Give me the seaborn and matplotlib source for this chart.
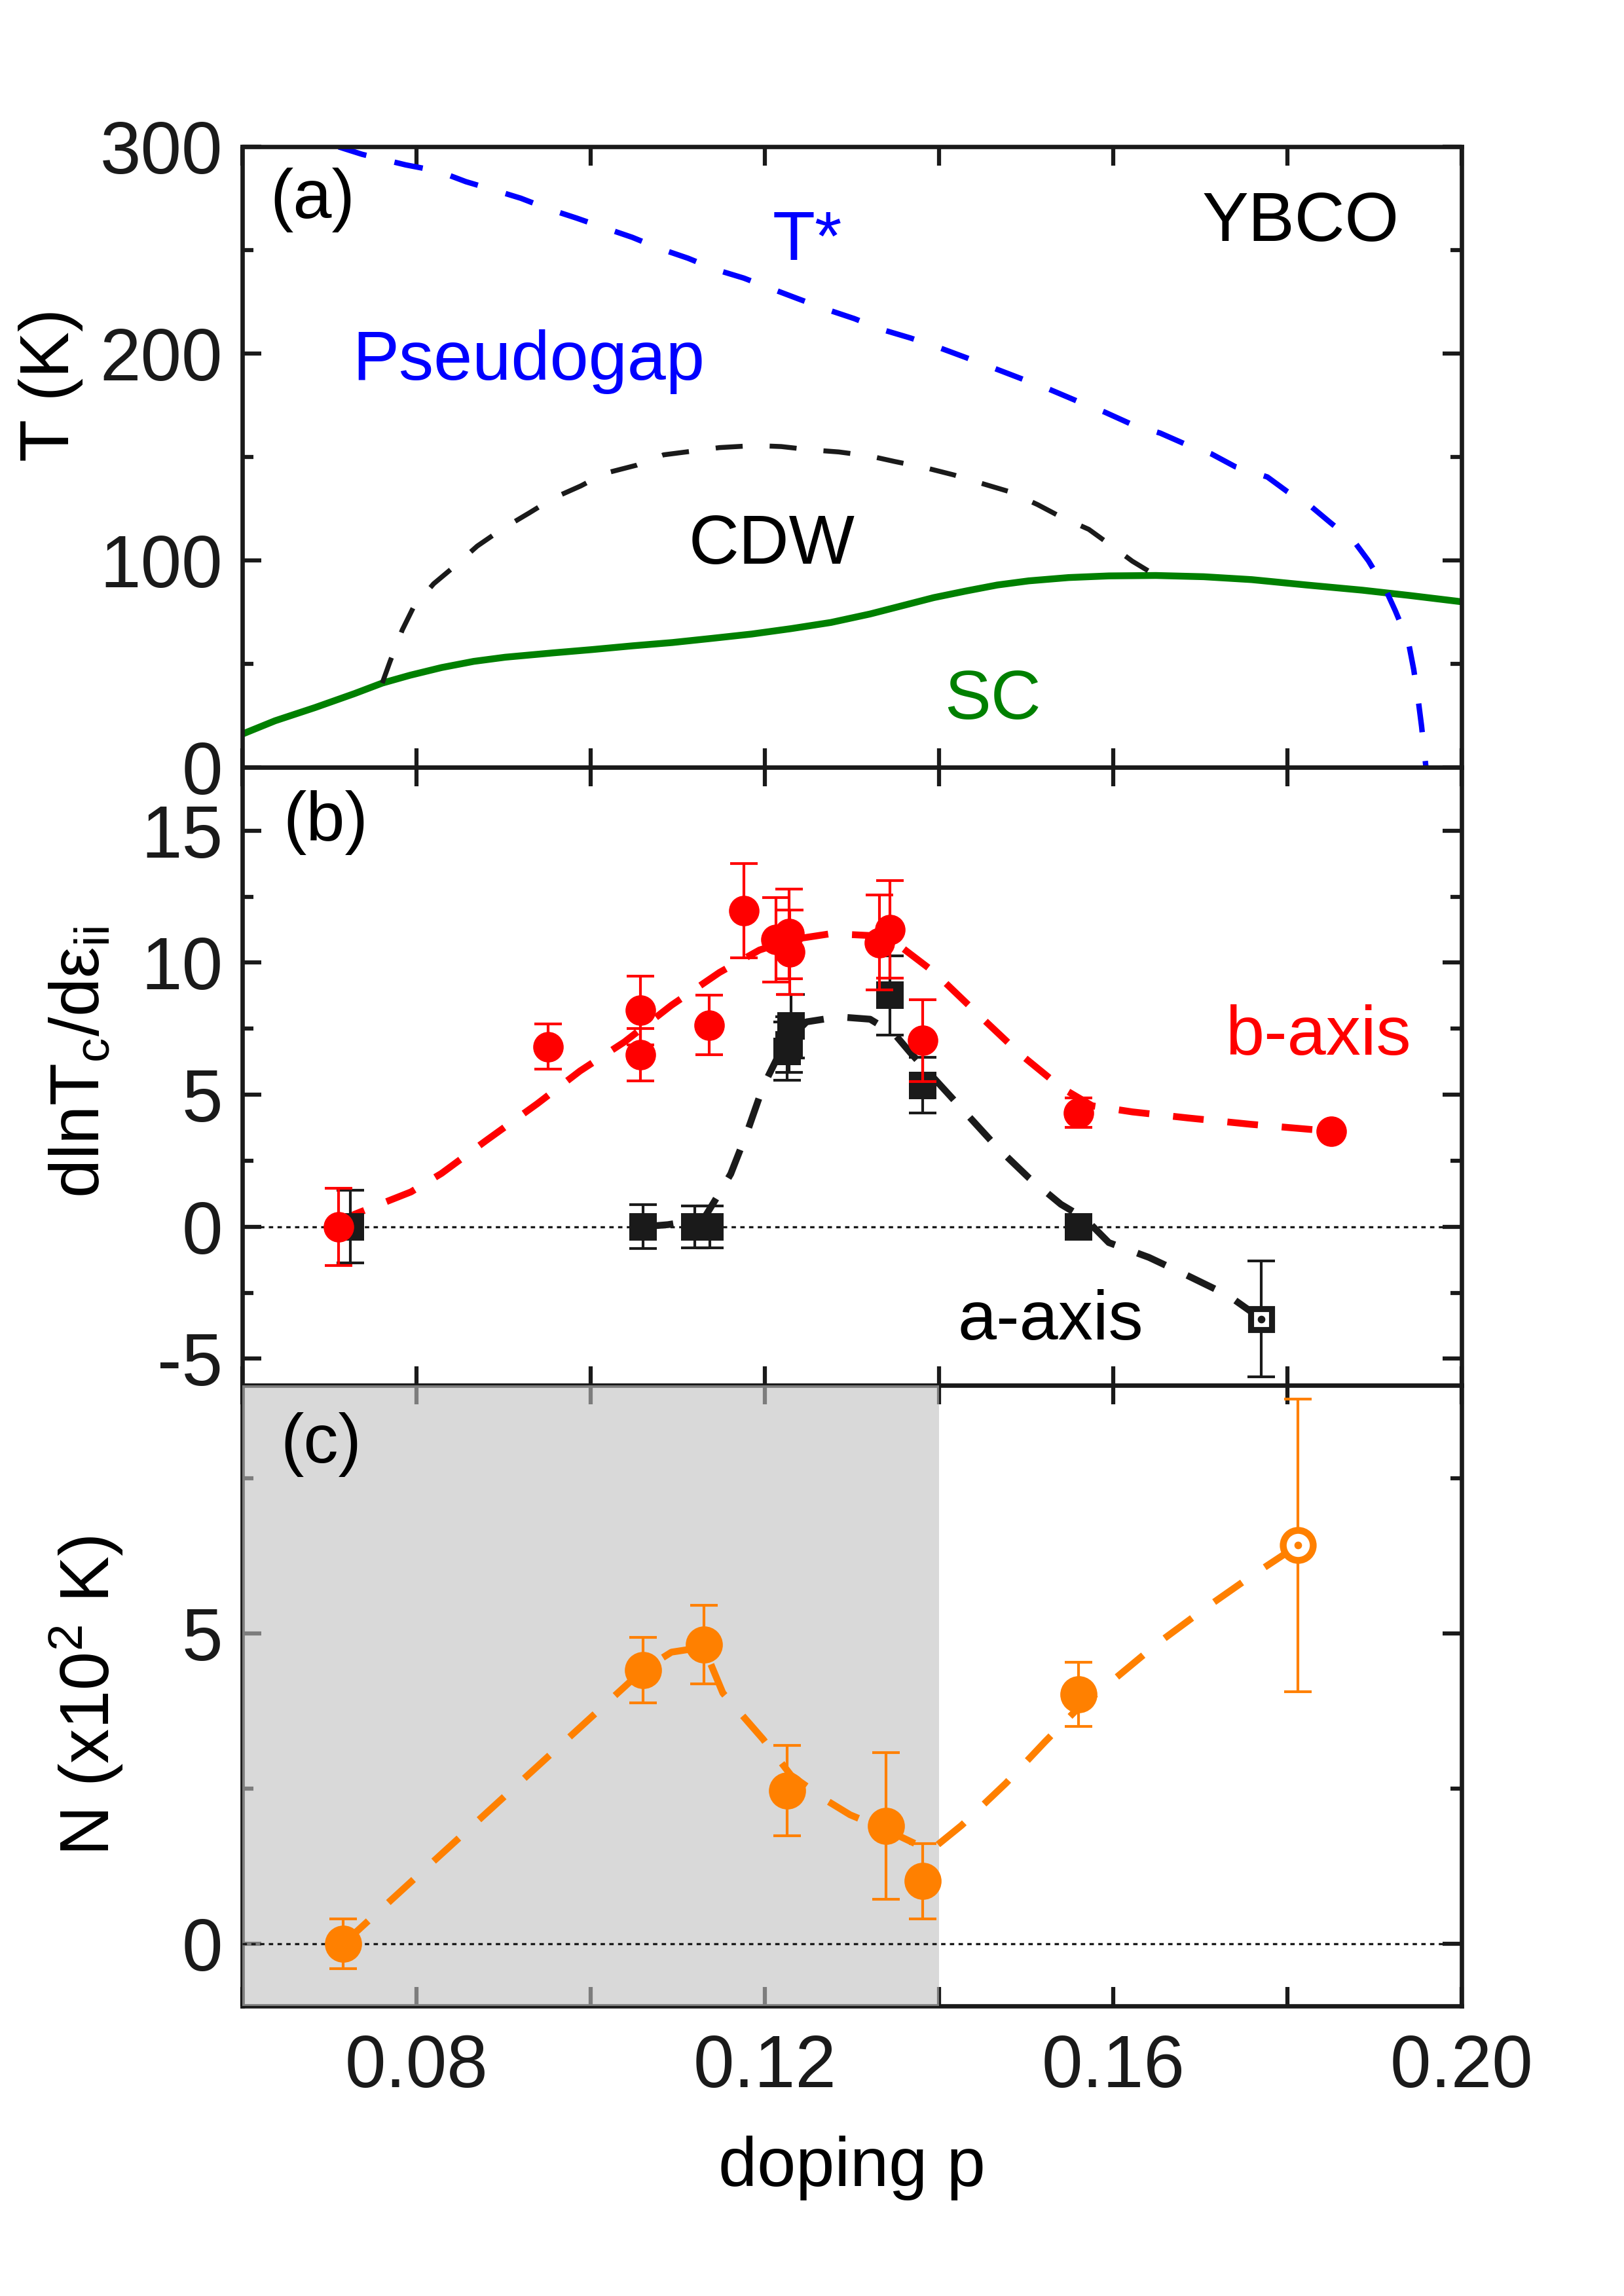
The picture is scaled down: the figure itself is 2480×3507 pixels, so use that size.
import matplotlib
matplotlib.use('Agg')
import matplotlib.pyplot as plt
import seaborn as sns
from matplotlib.ticker import MultipleLocator

# ---------------- panel (a): phase diagram ----------------
sc_p = [0.0600, 0.0638, 0.0684, 0.0729, 0.0761, 0.0793, 0.0829, 0.0866, 0.0902, 0.0957,
        0.1002, 0.1048, 0.1094, 0.1139, 0.1185, 0.1230, 0.1276, 0.1321, 0.1358, 0.1394,
        0.1431, 0.1467, 0.1503, 0.1549, 0.1595, 0.1649, 0.1704, 0.1759, 0.1822, 0.1886,
        0.1941, 0.2000]
sc_T = [16.0, 22.5, 28.9, 35.6, 40.7, 44.5, 48.2, 51.2, 53.2, 55.3,
        56.9, 58.7, 60.3, 62.3, 64.4, 67.0, 70.0, 74.1, 78.1, 82.0,
        85.2, 88.1, 90.1, 91.7, 92.5, 92.7, 92.1, 90.7, 88.1, 85.6,
        83.0, 80.0]

cdw_p = [0.0761, 0.0770, 0.0784, 0.0797, 0.0820, 0.0843, 0.0870, 0.0898, 0.0930, 0.0957,
         0.0989, 0.1016, 0.1053, 0.1084, 0.1121, 0.1148, 0.1189, 0.1219, 0.1253, 0.1285,
         0.1321, 0.1349, 0.1385, 0.1417, 0.1449, 0.1481, 0.1513, 0.1540, 0.1572, 0.1595,
         0.1622, 0.1649]
cdw_T = [40.7, 51.2, 66.4, 77.5, 88.7, 96.8, 106.9, 115, 123, 130,
         136, 142, 146, 151, 153, 154.5, 155.5, 155, 153.4, 152.4,
         150.4, 147.8, 144.7, 141.3, 137.2, 133.2, 127, 121, 115, 108,
         99.6, 92.7]

tstar_p = [0.0711, 0.0738, 0.0788, 0.0825, 0.0857, 0.0889, 0.0920, 0.0952, 0.0984, 0.1016,
           0.1048, 0.1080, 0.1112, 0.1144, 0.1176, 0.1207, 0.1239, 0.1271, 0.1303, 0.1335,
           0.1367, 0.1399, 0.1431, 0.1463, 0.1494, 0.1526, 0.1558, 0.1590, 0.1622, 0.1654,
           0.1681, 0.1713, 0.1740, 0.1777, 0.1800, 0.1827, 0.1850, 0.1877, 0.1893, 0.1912,
           0.1924, 0.1939, 0.1945, 0.1950, 0.1954, 0.1959]
tstar_T = [299.8, 296.2, 291.1, 288.1, 283.0, 279.0, 275.0, 269.8, 265.4, 260.7,
           256.1, 250.6, 246.0, 240.5, 236.4, 231.4, 226.3, 221.3, 216.8, 211.5,
           207.5, 203.0, 198.0, 192.9, 187.9, 182.8, 177.1, 171.7, 165.6, 161.5,
           156.5, 151.4, 145.3, 140.3, 133.2, 126.1, 118.0, 108.9, 99.8, 86.6,
           75.5, 60.3, 47.2, 33.0, 19.8, 0.0]

# ---------------- panel (b): dlnTc/de ----------------
b_p = [0.0711, 0.0951, 0.1057, 0.1057, 0.1136, 0.1176, 0.1213, 0.1228, 0.1229, 0.1332,
       0.1344, 0.1381, 0.1560, 0.1850]
b_y = [0.0, 6.82, 8.2, 6.52, 7.64, 11.97, 10.87, 11.1, 10.4, 10.76,
       11.26, 7.05, 4.32, 3.62]
b_err = [1.47, 0.85, 1.3, 1.0, 1.12, 1.78, 1.6, 1.7, 1.6, 1.8,
         1.85, 1.55, 0.55, 0.0]

a_p = [0.0724, 0.1060, 0.1120, 0.1137, 0.1230, 0.1228, 0.1226, 0.1344, 0.1381, 0.1560]
a_y = [0.0, 0.0, 0.0, 0.0, 7.6, 6.9, 6.65, 8.77, 5.36, 0.0]
a_err = [1.38, 0.83, 0.8, 0.8, 1.2, 1.05, 1.1, 1.5, 1.05, 0.3]

a_open_p = [0.1770]
a_open_y = [-3.49]
a_open_err = [2.2]

b_line_p = [0.0711, 0.0729, 0.0794, 0.0829, 0.0880, 0.0939, 0.0988, 0.1039, 0.1093, 0.1148,
            0.1194, 0.1230, 0.1276, 0.1321, 0.1358, 0.1395, 0.1449, 0.1494, 0.1540, 0.1576,
            0.1622, 0.1686, 0.1758, 0.1850]
b_line_y = [0.0, 0.47, 1.32, 2.02, 3.26, 4.66, 5.9, 7.0, 8.39, 9.63,
            10.48, 10.87, 11.1, 11.03, 10.56, 9.63, 7.92, 6.52, 5.28, 4.58,
            4.35, 4.12, 3.88, 3.62]

a_line_p = [0.1060, 0.1089, 0.1130, 0.1143, 0.1161, 0.1180, 0.1198, 0.1222, 0.1248, 0.1285,
            0.1321, 0.1349, 0.1367, 0.1395, 0.1431, 0.1467, 0.1503, 0.1540, 0.1568, 0.1595,
            0.1641, 0.1686, 0.1732, 0.1770]
a_line_y = [0.0, 0.08, 0.3, 1.0, 2.0, 3.6, 5.3, 6.9, 7.76, 7.95,
            7.86, 7.3, 6.6, 5.6, 4.3, 3.0, 1.86, 0.85, 0.3, -0.6,
            -1.16, -1.86, -2.6, -3.49]

# ---------------- panel (c): N ----------------
n_p = [0.0716, 0.1060, 0.1130, 0.1226, 0.1339, 0.1381, 0.1560]
n_y = [0.0, 4.41, 4.82, 2.47, 1.9, 1.01, 4.02]
n_err = [0.4, 0.53, 0.63, 0.73, 1.18, 0.61, 0.52]

n_open_p = [0.1812]
n_open_y = [6.42]
n_open_err = [2.36]

n_line_p = [0.0716, 0.1060, 0.1093, 0.1130, 0.1152, 0.1175, 0.1198, 0.1230, 0.1270, 0.1298,
            0.1339, 0.1390, 0.1426, 0.1477, 0.1522, 0.1560, 0.1594, 0.1649, 0.1704, 0.1758,
            0.1812]
n_line_y = [0.0, 4.41, 4.7, 4.78, 4.04, 3.67, 3.3, 2.72, 2.32, 2.08,
            1.84, 1.5, 1.91, 2.59, 3.26, 3.8, 4.18, 4.82, 5.39, 5.92,
            6.42]

# =====================================================================
sns.set_theme(style='ticks')
plt.rcParams['font.family'] = ['Liberation Sans', 'DejaVu Sans']
plt.rcParams['mathtext.default'] = 'regular'
plt.rcParams['axes.unicode_minus'] = False
for key in ['text.color', 'axes.labelcolor', 'xtick.color', 'ytick.color', 'axes.edgecolor']:
    plt.rcParams[key] = 'black'

FS = 25.5      # annotations / axis labels
TFS = 27       # tick labels
fig = plt.figure(figsize=(8.267, 11.69), dpi=300)
left, width = 0.149, 0.751
ax_a = fig.add_axes([left, 0.6658, width, 0.2704])
ax_b = fig.add_axes([left, 0.3967, width, 0.2691], sharex=ax_a)
ax_c = fig.add_axes([left, 0.1263, width, 0.2704], sharex=ax_a)


def style_axes(ax):
    ax.tick_params(which='both', direction='in', top=True, right=True,
                   width=1.5, labelsize=TFS, pad=7, colors='k')
    ax.tick_params(which='major', length=7)
    ax.tick_params(axis='y', which='minor', length=4)
    ax.tick_params(axis='x', which='minor', length=7)
    ax.xaxis.set_major_locator(MultipleLocator(0.04))
    ax.xaxis.set_minor_locator(MultipleLocator(0.02))
    for s in ax.spines.values():
        s.set_linewidth(1.6)
        s.set_color('k')


# ---- (a)
sns.lineplot(x=sc_p, y=sc_T, ax=ax_a, color='#008000', lw=2.5, sort=False, estimator=None)
sns.lineplot(x=cdw_p, y=cdw_T, ax=ax_a, color='k', lw=1.8, linestyle=(0, (5.5, 5.5)),
             sort=False, estimator=None)
sns.lineplot(x=tstar_p, y=tstar_T, ax=ax_a, color='#0000ff', lw=2, linestyle=(0, (5.3, 5.3)),
             sort=False, estimator=None)
ax_a.set_xlim(0.06, 0.20)
ax_a.set_ylim(0, 300)
ax_a.yaxis.set_major_locator(MultipleLocator(100))
ax_a.yaxis.set_minor_locator(MultipleLocator(50))
style_axes(ax_a)
ax_a.tick_params(labelbottom=False)
ax_a.set_ylabel('T (K)', fontsize=FS)
ax_a.yaxis.set_label_coords(-0.13, 0.616)
ax_a.text(0.0681, 274, '(a)', fontsize=FS, ha='center', va='center')
ax_a.text(0.1815, 263, 'YBCO', fontsize=FS, ha='center', va='center')
ax_a.text(0.1249, 254, 'T*', fontsize=FS, color='#0000ff', ha='center', va='center')
ax_a.text(0.0929, 196, 'Pseudogap', fontsize=FS, color='#0000ff', ha='center', va='center')
ax_a.text(0.1208, 107, 'CDW', fontsize=FS, ha='center', va='center')
ax_a.text(0.1462, 32, 'SC', fontsize=FS, color='#008000', ha='center', va='center')

# ---- (b)
ax_b.axhline(0, color='k', lw=0.8, ls=(0, (2, 2)), zorder=1)
sns.lineplot(x=a_line_p, y=a_line_y, ax=ax_b, color='k', lw=2.5, linestyle=(0, (4.5, 3.5)),
             sort=False, estimator=None)
sns.lineplot(x=b_line_p, y=b_line_y, ax=ax_b, color='#ff0000', lw=2.5, linestyle=(0, (4.5, 3.5)),
             sort=False, estimator=None)
ax_b.errorbar(a_p, a_y, yerr=a_err, fmt='none', ecolor='k', elinewidth=1, capsize=5,
              capthick=1, zorder=3)
ax_b.errorbar(a_open_p, a_open_y, yerr=a_open_err, fmt='none', ecolor='k', elinewidth=1,
              capsize=5, capthick=1, zorder=3)
sns.scatterplot(x=a_p, y=a_y, ax=ax_b, marker='s', color='k', s=100, linewidth=0, zorder=4)
ax_b.plot(a_open_p, a_open_y, marker='s', ms=7.5, mfc='white', mec='k', mew=2.2, ls='none',
          zorder=4)
ax_b.plot(a_open_p, a_open_y, marker='o', ms=1.8, color='k', ls='none', zorder=5)
ax_b.errorbar(b_p, b_y, yerr=b_err, fmt='none', ecolor='#ff0000', elinewidth=1, capsize=5,
              capthick=1, zorder=5)
sns.scatterplot(x=b_p, y=b_y, ax=ax_b, marker='o', color='#ff0000', s=125, linewidth=0, zorder=6)
ax_b.set_ylim(-6, 17.4)
ax_b.yaxis.set_major_locator(MultipleLocator(5))
ax_b.yaxis.set_minor_locator(MultipleLocator(2.5))
style_axes(ax_b)
ax_b.tick_params(labelbottom=False)
ax_b.set_ylabel('dlnT$_c$/dε$_{ii}$', fontsize=FS)
ax_b.yaxis.set_label_coords(-0.105, 0.523)
ax_b.text(0.0696, 15.3, '(b)', fontsize=FS, ha='center', va='center')
ax_b.text(0.1835, 7.2, 'b-axis', fontsize=FS, color='#ff0000', ha='center', va='center')
ax_b.text(0.1528, -3.6, 'a-axis', fontsize=FS, ha='center', va='center')

# ---- (c)
ax_c.axvspan(0.06, 0.14, color='#c0c0c0', alpha=0.6, lw=0, zorder=3)
ax_c.axhline(0, color='k', lw=0.8, ls=(0, (2, 2)), zorder=3.5)
sns.lineplot(x=n_line_p, y=n_line_y, ax=ax_c, color='#ff8000', lw=2.5, linestyle=(0, (5, 4)),
             sort=False, estimator=None, zorder=4)
ax_c.errorbar(n_p, n_y, yerr=n_err, fmt='none', ecolor='#ff8000', elinewidth=1, capsize=5,
              capthick=1, zorder=4)
ax_c.errorbar(n_open_p, n_open_y, yerr=n_open_err, fmt='none', ecolor='#ff8000', elinewidth=1,
              capsize=5, capthick=1, zorder=4)
sns.scatterplot(x=n_p, y=n_y, ax=ax_c, marker='o', color='#ff8000', s=185, linewidth=0, zorder=5)
ax_c.plot(n_open_p, n_open_y, marker='o', ms=11, mfc='white', mec='#ff8000', mew=2.5,
          ls='none', zorder=5)
ax_c.plot(n_open_p, n_open_y, marker='o', ms=1.8, color='#ff8000', ls='none', zorder=6)
ax_c.set_ylim(-1, 9)
ax_c.yaxis.set_major_locator(MultipleLocator(5))
ax_c.yaxis.set_minor_locator(MultipleLocator(2.5))
style_axes(ax_c)
ax_c.tick_params(axis='x', pad=10)
ax_c.set_xticklabels([f'{v:.2f}' for v in ax_c.get_xticks()])
ax_c.set_xlim(0.06, 0.20)
ax_c.set_ylabel('N (x10$^2$ K)', fontsize=FS)
ax_c.yaxis.set_label_coords(-0.0956, 0.5)
ax_c.set_xlabel('doping p', fontsize=FS, labelpad=12)
ax_c.text(0.0691, 8.04, '(c)', fontsize=FS, ha='center', va='center')

fig.savefig('out.png', dpi=300)
